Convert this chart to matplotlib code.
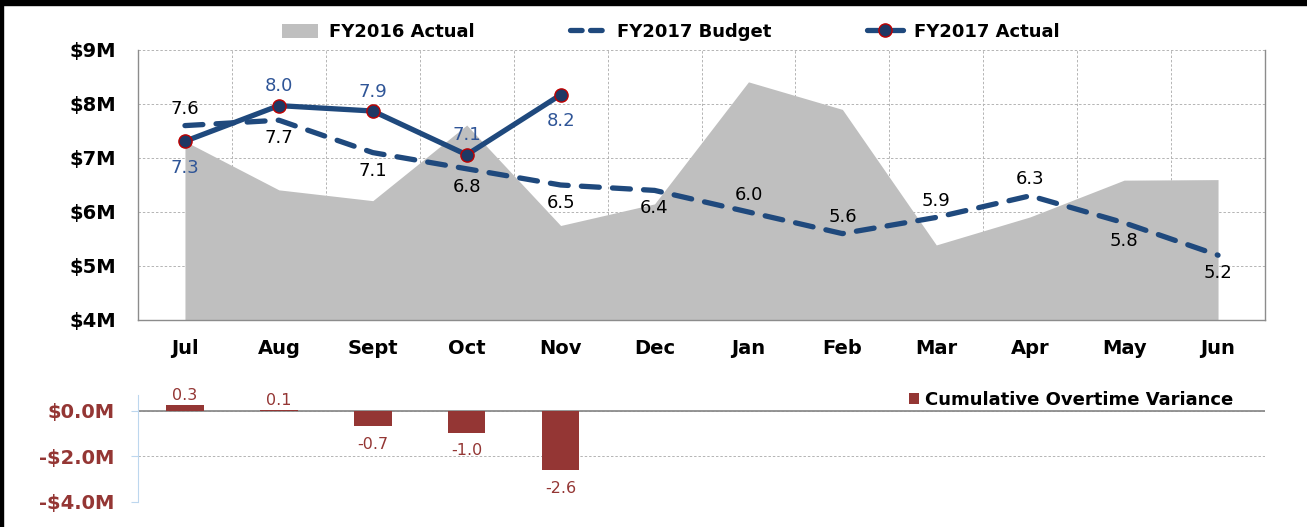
import matplotlib.pyplot as plt
import numpy as np
from matplotlib.lines import Line2D
from matplotlib.patches import Patch, Rectangle

plt.rcParams["font.family"] = ["DejaVu Sans"]

months = ["Jul", "Aug", "Sept", "Oct", "Nov", "Dec", "Jan", "Feb", "Mar", "Apr", "May", "Jun"]
fy2016_actual = [7.31, 6.41, 6.21, 7.61, 5.75, 6.15, 8.41, 7.90, 5.39, 5.91, 6.59, 6.60]
fy2017_budget = [7.6, 7.7, 7.1, 6.8, 6.5, 6.4, 6.0, 5.6, 5.9, 6.3, 5.8, 5.2]
fy2017_actual = [7.31, 7.97, 7.87, 7.06, 8.17]
overtime_variance = [0.28, 0.06, -0.66, -0.96, -2.60]

y_ticks = [4, 5, 6, 7, 8, 9]
y_tick_labels = ["$4M", "$5M", "$6M", "$7M", "$8M", "$9M"]
var_ticks = [0, -2, -4]
var_tick_labels = ["$0.0M", "-$2.0M", "-$4.0M"]

# label placement: +1 above the point, -1 below
budget_label_side = [1, -1, -1, -1, -1, -1, 1, 1, 1, 1, -1, -1]
actual_label_side = [-1, 1, 1, 1, -1]

BLUE = "#1F497D"
MARKER_FILL = "#1F3864"
LABEL_BLUE = "#2F5597"
GRAY_AREA = "#BFBFBF"
GRID = "#B4B4B4"
RED = "#943634"

W, H = 1307, 527
fig = plt.figure(figsize=(W / 100, H / 100), dpi=100)
fig.patch.set_facecolor("white")

ax = fig.add_axes([138 / W, 1 - 320 / H, 1127 / W, 270 / H])
ax2 = fig.add_axes([138 / W, 1 - 502 / H, 1127 / W, 107 / H])

x = np.arange(len(months))

# main chart
ax.fill_between(x, 4, fy2016_actual, color=GRAY_AREA, linewidth=0, zorder=2)
ax.plot(x, fy2017_budget, color=BLUE, linewidth=3.8, dashes=(3.4, 2.5),
        dash_capstyle="round", zorder=3)
xa = x[: len(fy2017_actual)]
ax.plot(xa, fy2017_actual, color=BLUE, linewidth=3.8, marker="o", markersize=9.5,
        markerfacecolor=MARKER_FILL, markeredgecolor="#C00000", markeredgewidth=1.0,
        solid_capstyle="round", zorder=4)

for xi, val, side in zip(x, fy2017_budget, budget_label_side):
    ax.annotate(f"{val:.1f}", (xi, val), xytext=(0, 12 if side > 0 else -13),
                textcoords="offset points", ha="center", va="center",
                fontsize=13, color="black", zorder=5)
for xi, val, side in zip(xa, fy2017_actual, actual_label_side):
    ax.annotate(f"{val:.1f}", (xi, val), xytext=(0, 14 if side > 0 else -19),
                textcoords="offset points", ha="center", va="center",
                fontsize=13, color=LABEL_BLUE, zorder=5)

ax.set_xlim(-0.5, len(months) - 0.5)
ax.set_ylim(4, 9)
ax.set_xticks(x, months)
ax.set_xticks(np.arange(-0.5, len(months), 0.5), minor=True)
ax.set_yticks(y_ticks, y_tick_labels)
ax.set_axisbelow(True)
ax.grid(which="minor", axis="x", color=GRID, linestyle=(0, (2.5, 2)), linewidth=0.7)
ax.grid(which="major", axis="y", color=GRID, linestyle=(0, (2.5, 2)), linewidth=0.7)
ax.tick_params(which="both", length=0)
ax.tick_params(axis="x", pad=14, labelsize=14)
ax.tick_params(axis="y", pad=16, labelsize=14)
for lab in ax.get_xticklabels() + ax.get_yticklabels():
    lab.set_fontweight("bold")
ax.spines["top"].set_visible(False)
for side in ("left", "bottom", "right"):
    ax.spines[side].set_color("#8C8C8C")
    ax.spines[side].set_linewidth(1.0)

handles = [
    Patch(facecolor=GRAY_AREA, edgecolor="none"),
    Line2D([0], [0], color=BLUE, linewidth=3.8, dashes=(2.2, 1.6), dash_capstyle="round"),
    Line2D([0], [0], color=BLUE, linewidth=3.8, marker="o", markersize=9.5,
           markerfacecolor=MARKER_FILL, markeredgecolor="#C00000", markeredgewidth=1.0,
           solid_capstyle="round"),
]
fig.legend(handles, ["FY2016 Actual", "FY2017 Budget", "FY2017 Actual"], ncol=3,
           loc="center", bbox_to_anchor=(0.5134, 1 - 32 / H), frameon=False,
           prop={"weight": "bold", "size": 13}, handlelength=2.0, handleheight=0.8,
           handletextpad=0.6, columnspacing=5.3, borderpad=0)

# cumulative overtime variance
xv = x[: len(overtime_variance)]
ax2.bar(xv, overtime_variance, width=0.4, color=RED, zorder=3)
ax2.axhline(0, color="#8C8C8C", linewidth=1.3, zorder=2)
for xi, val in zip(xv, overtime_variance):
    if val >= 0:
        ax2.annotate(f"{val:.1f}", (xi, val), xytext=(0, 1), textcoords="offset points",
                     ha="center", va="bottom", fontsize=11.5, color=RED)
    else:
        ax2.annotate(f"{val:.1f}", (xi, val), xytext=(0, -13), textcoords="offset points",
                     ha="center", va="center", fontsize=11.5, color=RED)

ax2.set_xlim(-0.5, len(months) - 0.5)
ax2.set_ylim(-4, 0.7)
ax2.set_xticks([])
ax2.set_yticks(var_ticks, var_tick_labels)
ax2.grid(axis="y", color=GRID, linestyle=(0, (2.5, 2)), linewidth=0.7)
ax2.set_axisbelow(True)
ax2.tick_params(axis="y", length=5, color="#BDD7EE", labelcolor=RED, labelsize=14, pad=12)
for lab in ax2.get_yticklabels():
    lab.set_fontweight("bold")
for side in ("top", "right", "bottom"):
    ax2.spines[side].set_visible(False)
ax2.spines["left"].set_color("#BDD7EE")

fig.legend([Patch(facecolor=RED, edgecolor="none")], ["Cumulative Overtime Variance"],
           loc="center right", bbox_to_anchor=(1233 / W, 1 - 400 / H), frameon=False,
           prop={"weight": "bold", "size": 13}, handlelength=0.6, handleheight=0.6,
           handletextpad=0.3, borderpad=0, borderaxespad=0)

# black frame edges
fig.add_artist(Rectangle((0, 1 - 5 / H), 1, 5 / H, transform=fig.transFigure,
                         color="black", zorder=10))
fig.add_artist(Rectangle((0, 0), 3 / W, 1, transform=fig.transFigure,
                         color="black", zorder=10))

fig.savefig("out.png", dpi=100)
